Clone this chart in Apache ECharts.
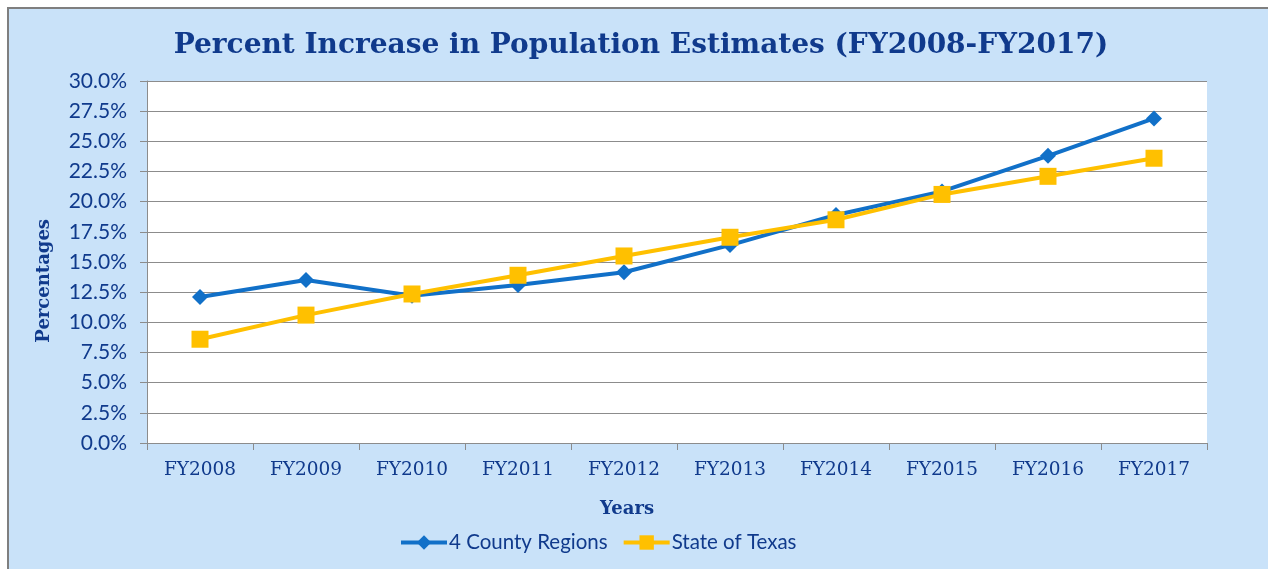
<!DOCTYPE html>
<html>
<head>
<meta charset="utf-8">
<script src="https://cdn.jsdelivr.net/npm/echarts@6/dist/echarts.min.js"></script>
<style>
html,body{margin:0;padding:0;background:#ffffff;}
#chart{width:1268px;height:569px;}
</style>
</head>
<body>
<div id="chart"></div>
<script>
var categories = ['FY2008','FY2009','FY2010','FY2011','FY2012','FY2013','FY2014','FY2015','FY2016','FY2017'];
var countyRegions = [12.1, 13.5, 12.2, 13.1, 14.15, 16.4, 18.9, 20.85, 23.8, 26.9];
var stateOfTexas = [8.6, 10.6, 12.35, 13.9, 15.5, 17.05, 18.5, 20.6, 22.1, 23.6];
var seriesNames = ['4 County Regions', 'State of Texas'];
var titleText = 'Percent Increase in Population Estimates (FY2008-FY2017)';
var xAxisTitle = 'Years';
var yAxisTitle = 'Percentages';

var textBlue = '#103A8C';
var chart = echarts.init(document.getElementById('chart'), null, {renderer:'canvas'});
chart.setOption({
  animation:false,
  backgroundColor:'#ffffff',
  graphic:[
    {type:'rect', z:-10, silent:true, shape:{x:8,y:8,width:1280,height:580}, style:{fill:'#C9E2F9', stroke:'#7F7F7F', lineWidth:2}},
    {type:'rect', z:-9, silent:true, shape:{x:147,y:81,width:1060,height:362}, style:{fill:'#ffffff'}},
    {type:'text', left:35, top:219, rotation:Math.PI/2, style:{text:yAxisTitle, fill:textBlue, font:'bold 18px "DejaVu Serif"'}}
  ],
  title:[
    {text:titleText, left:636, top:27, textAlign:'center',
     textStyle:{fontFamily:'DejaVu Serif', fontWeight:'bold', fontSize:28, color:textBlue}},
    {text:xAxisTitle, left:622, top:495, textAlign:'center',
     textStyle:{fontFamily:'DejaVu Serif', fontWeight:'bold', fontSize:18, color:textBlue}}
  ],
  legend:{
    left:394, top:527, itemWidth:46, itemHeight:18, itemGap:14,
    lineStyle:{width:4},
    textStyle:{fontFamily:'Lato', fontSize:20.5, color:textBlue, padding:[0,0,0,-3]},
    data:seriesNames
  },
  grid:{left:147, right:61, top:81, bottom:126, containLabel:false},
  xAxis:{
    type:'category', data:categories, boundaryGap:true,
    axisLine:{lineStyle:{color:'#8C8C8C', width:1}},
    axisTick:{show:true, length:7, alignWithLabel:false, lineStyle:{color:'#8C8C8C'}},
    axisLabel:{fontFamily:'DejaVu Serif', fontSize:18.5, color:textBlue, margin:18},
    splitLine:{show:false}
  },
  yAxis:{
    type:'value', min:0, max:30, interval:2.5,
    axisLine:{show:true, lineStyle:{color:'#8C8C8C', width:1}},
    axisTick:{show:true, length:7, lineStyle:{color:'#8C8C8C'}},
    axisLabel:{fontFamily:'Lato', fontSize:21, color:textBlue, margin:20,
      formatter:function(v){return v.toFixed(1)+'%';}},
    splitLine:{show:true, lineStyle:{color:'#8C8C8C', width:1}}
  },
  series:[
    {name:seriesNames[0], type:'line', data:countyRegions, symbol:'diamond', symbolSize:16,
     lineStyle:{color:'#1170C8', width:4}, itemStyle:{color:'#1170C8'}, z:3},
    {name:seriesNames[1], type:'line', data:stateOfTexas, symbol:'rect', symbolSize:17,
     lineStyle:{color:'#FFC000', width:4}, itemStyle:{color:'#FFC000'}, z:4}
  ]
});
</script>
</body>
</html>
